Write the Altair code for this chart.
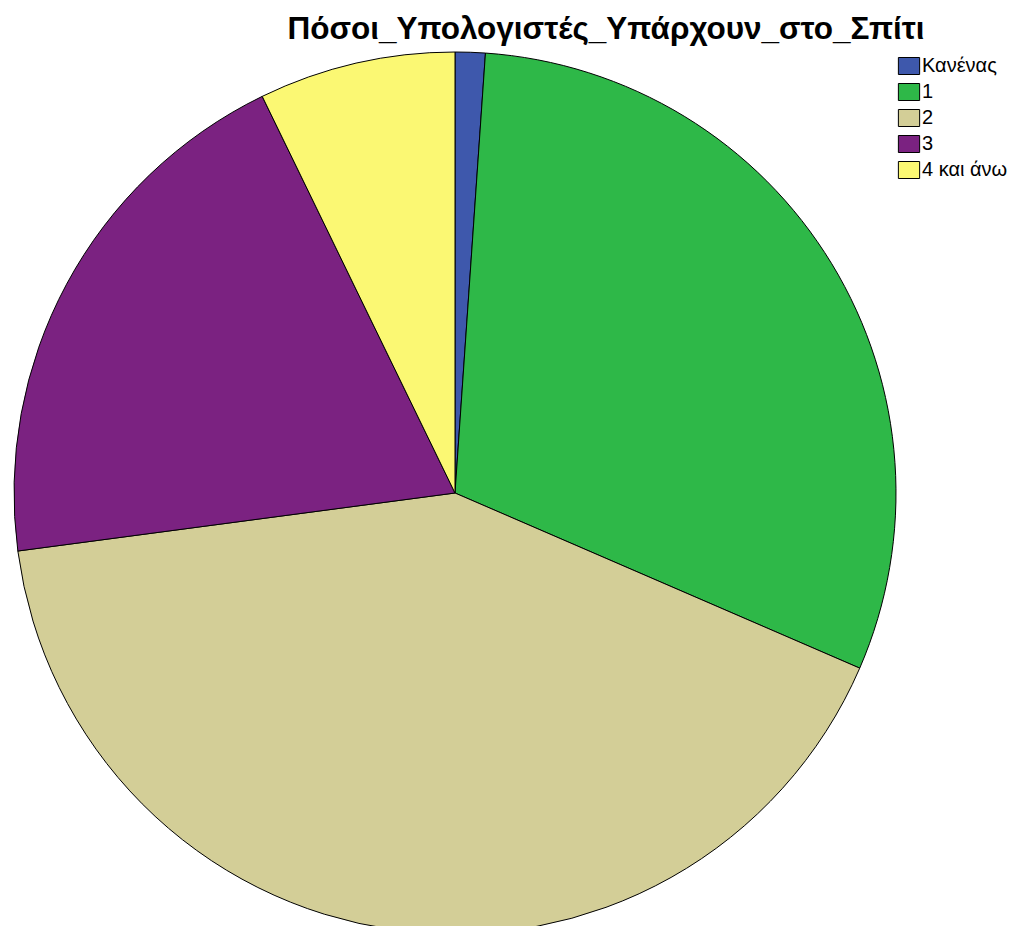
import altair as alt
import pandas as pd

categories = ["Κανένας", "1", "2", "3", "4 και άνω"]
values = [1.1, 30.4, 41.4, 19.9, 7.2]
colors = ["#3E58AC", "#2EB848", "#D3CE97", "#7B2281", "#FBF873"]
title_text = "Πόσοι_Υπολογιστές_Υπάρχουν_στο_Σπίτι"

df = pd.DataFrame({"cat": categories, "val": values, "idx": list(range(len(categories)))})

pie = alt.Chart(df).mark_arc(outerRadius=441, stroke="black", strokeWidth=1).encode(
    theta=alt.Theta("val:Q", stack=True),
    order=alt.Order("idx:Q"),
    color=alt.Color(
        "cat:N",
        scale=alt.Scale(domain=categories, range=colors),
        sort=categories,
        legend=alt.Legend(
            title=None,
            orient="none",
            legendX=891,
            legendY=48,
            symbolType="M-1.25,-1H1.25V1H-1.25Z",
            symbolSize=289,
            symbolStrokeColor="black",
            symbolStrokeWidth=1,
            symbolOpacity=1,
            labelFontSize=20,
            labelFont="Liberation Sans",
            labelColor="black",
            rowPadding=4,
            labelOffset=3,
        ),
    ),
    x=alt.value(447),
    y=alt.value(485),
)

title = alt.Chart(pd.DataFrame({"t": [title_text]})).mark_text(
    font="Liberation Sans", fontSize=31.5, fontWeight="bold", color="black", align="center", baseline="alphabetic"
).encode(text="t:N", x=alt.value(598), y=alt.value(31))

chart = alt.layer(pie, title).properties(
    width=1000, height=918, autosize=alt.AutoSizeParams(type="none"), padding=0
).configure(background="white").configure_view(stroke=None, strokeWidth=0)

chart.save("out.html", embed_options={"renderer": "svg", "actions": False})
